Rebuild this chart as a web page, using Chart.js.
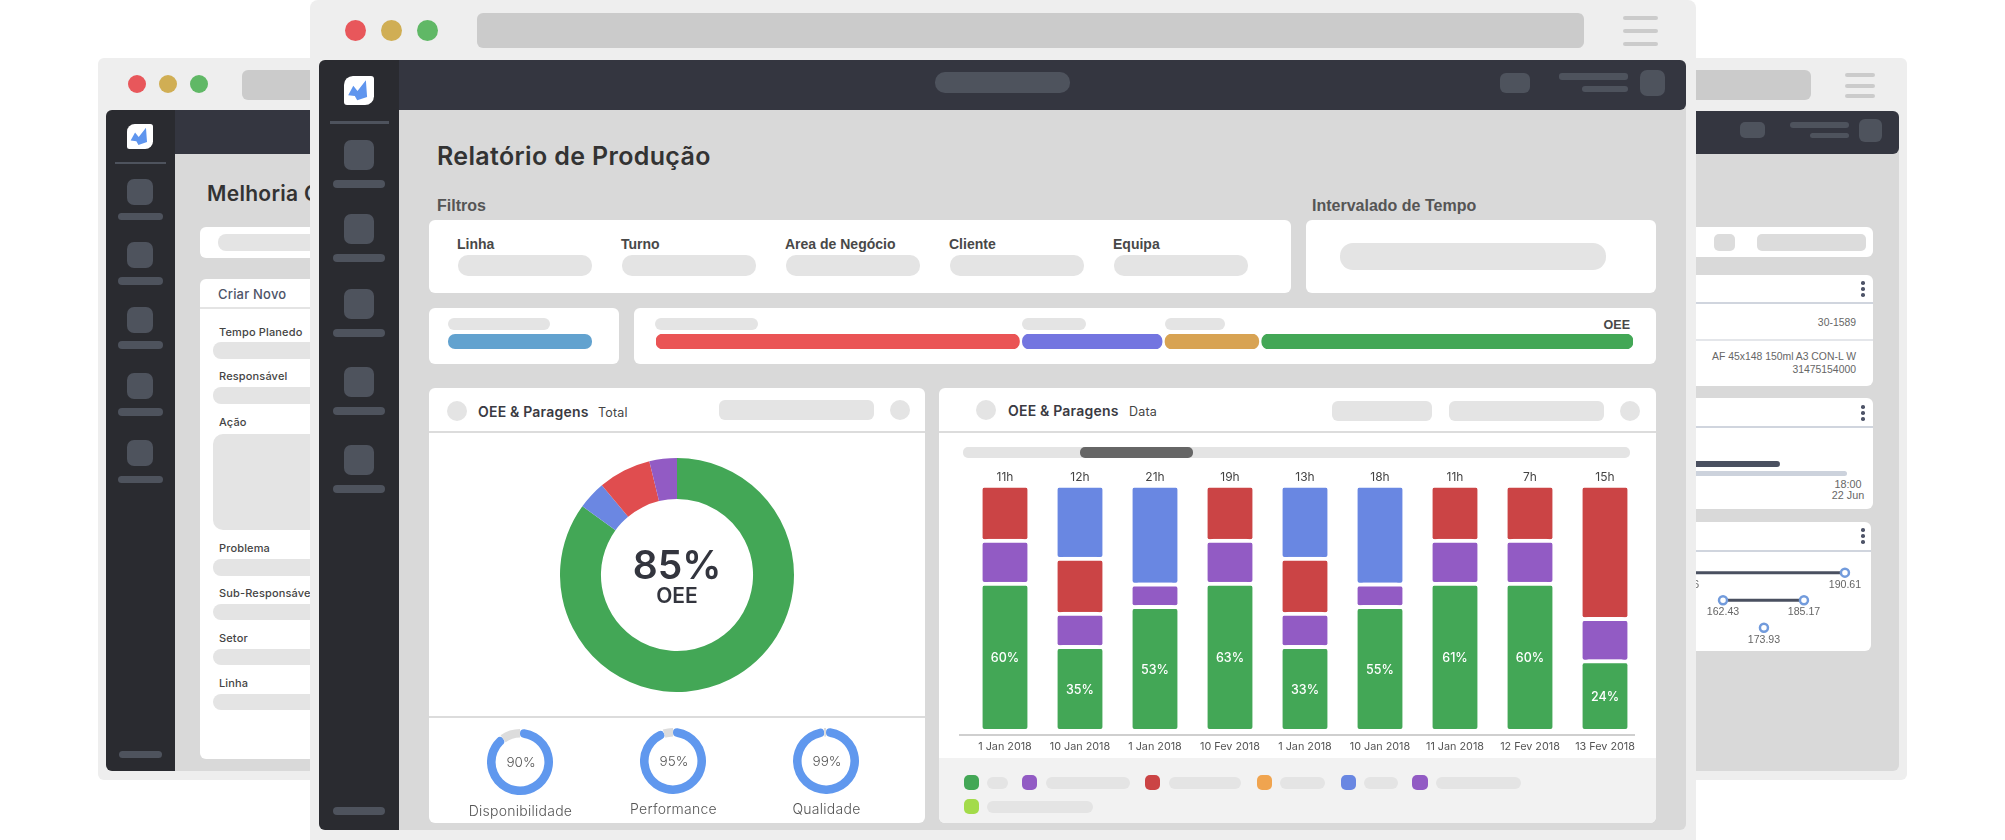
<!DOCTYPE html>
<html lang="pt">
<head>
<meta charset="utf-8">
<title>Relatório de Produção</title>
<script src="https://cdn.jsdelivr.net/npm/chart.js@4"></script>
<style>
  html, body { margin: 0; padding: 0; background: #fff; overflow: hidden; }
  #stage { position: relative; width: 2005px; height: 840px; overflow: hidden; background: #fff; }
  #stage div, #stage canvas { position: absolute; }
  .t { white-space: nowrap; line-height: 1; }
</style>
</head>
<body>
<div id="stage"></div>
<script>
/* === DATA === */
const dayLabels = ["1 Jan 2018", "10 Jan 2018", "1 Jan 2018", "10 Fev 2018", "1 Jan 2018", "10 Jan 2018", "11 Jan 2018", "12 Fev 2018", "13 Fev 2018"];
const hourLabels = ["11h", "12h", "21h", "19h", "13h", "18h", "11h", "7h", "15h"];
const oeeLabels = ["60%", "35%", "53%", "63%", "33%", "55%", "61%", "60%", "24%"];

const greenValues = [60, 34.2, 50.5, 60, 34.2, 50.5, 60, 60, 28.3];
const purpleValues = [17.5, 13.5, 9.2, 17.5, 13.5, 9.2, 17.5, 17.5, 17.3];
const redValues = [22.5, 22.5, null, 22.5, 22.5, null, 22.5, 22.5, 54.4];
const blueValues = [null, 29.8, 40.3, null, 29.8, 40.3, null, null, null];

const totalLabels = ["OEE", "Paragens azul", "Paragens vermelho", "Paragens roxo"];
const totalValues = [85, 3.9, 7.3, 3.8];

const gaugeNames = ["Disponibilidade", "Performance", "Qualidade"];
const gaugeValues = [90, 95, 99];

const segmentRanges = [[0, 37.2], [37.5, 51.8], [52.1, 61.7], [62, 100]];

const rangeTopX = [146.36, 190.61];
const rangeMidX = [162.43, 185.17];
const rangeLowX = [173.93];

/* === COLOURS === */
const GREEN = "#43a756";
const PURPLE = "#925bc4";
const RED = "#cb4445";
const BLUE = "#6987e2";
const GAUGE_BLUE = "#6098ee";
const PILL = "#e4e4e4";
const SIDE_ITEM = "#4e535d";
const POP = "Inter, 'Noto Sans', sans-serif";
const ARIAL = "'Liberation Sans', Arial, sans-serif";

Chart.defaults.animation = false;
Chart.defaults.responsive = false;
Chart.defaults.maintainAspectRatio = false;
Chart.defaults.plugins.legend.display = false;
Chart.defaults.plugins.tooltip.enabled = false;

/* === LAYOUT HELPERS === */
const stage = document.getElementById("stage");

function box(x1, y1, x2, y2, color, radius) {
  const d = document.createElement("div");
  d.style.cssText = `left:${x1}px;top:${y1}px;width:${x2 - x1}px;height:${y2 - y1}px;background:${color};border-radius:${radius || 0}px`;
  stage.appendChild(d);
  return d;
}

// x is the left edge, or the centre / right edge with align; y is the text's middle
function text(str, x, y, size, color, weight, font, align, spacing) {
  const d = document.createElement("div");
  d.className = "t";
  d.textContent = str;
  const shift = align === "center" ? "-50%" : align === "right" ? "-100%" : "0";
  d.style.cssText = `left:${x}px;top:${y}px;transform:translate(${shift},-50%);font:${weight || 400} ${size}px ${font || POP};color:${color};letter-spacing:${spacing || 0}px`;
  stage.appendChild(d);
  return d;
}

function canvas(x, y, w, h) {
  const c = document.createElement("canvas");
  c.width = w;
  c.height = h;
  c.style.cssText = `left:${x}px;top:${y}px;width:${w}px;height:${h}px`;
  stage.appendChild(c);
  return c;
}

function circle(cx, cy, r, color) {
  return box(cx - r, cy - r, cx + r, cy + r, color, r);
}

function logo(x1, y1, x2, y2) {
  const l = box(x1, y1, x2, y2, "#fff", 0);
  l.style.borderRadius = "30% 10% 30% 10%";
  const m = box(0, 0, x2 - x1, y2 - y1, "#5f95ee", 0);
  m.style.clipPath = "polygon(14% 66%,31% 34%,45% 52%,73% 15%,77% 72%,44% 84%,36% 69%)";
  l.appendChild(m);
}

function sideItem(x1, x2, iy1, iy2, lx1, lx2, ly1, ly2) {
  box(x1, iy1, x2, iy2, SIDE_ITEM, 7);
  box(lx1, ly1, lx2, ly2, SIDE_ITEM, 4);
}

function dots(x, y) {
  circle(x, y - 6, 1.8, "#4e5468");
  circle(x, y, 1.8, "#4e5468");
  circle(x, y + 6, 1.8, "#4e5468");
}

/* === BACK WINDOW, LEFT === */
box(98, 58, 800, 780, "#eeeeee", 6);
circle(137, 84, 9, "#e8575b");
circle(168, 84, 9, "#d0ae54");
circle(199, 84, 9, "#60b866");
box(242, 70, 500, 100, "#cbcbcb", 6);
box(106, 110, 800, 771, "#d9d9d9", 6);
box(160, 110, 800, 154, "#343640");
box(106, 110, 175, 771, "#2a2b30", 6);
box(160, 110, 175, 771, "#2a2b30");
logo(127, 124, 153, 149);
box(115, 162, 166, 164, "#4e535d");
[[179, 205, 213, 220], [242, 268, 277, 285], [307, 333, 341, 349], [373, 399, 408, 416], [440, 466, 476, 483]].forEach(r =>
  sideItem(127, 153, r[0], r[1], 118, 163, r[2], r[3]));
box(119, 751, 162, 758, SIDE_ITEM, 4);

text("Melhoria Contínua", 207, 193, 21, "#333", 600, POP, "left", 0.3);
box(200, 227, 500, 258, "#fff", 6);
box(218, 234, 500, 251, PILL, 8);
box(200, 279, 500, 759, "#fff", 6);
text("Criar Novo", 218, 294, 13, "#4e5468", 500, POP, "left", 0.2);
box(200, 307, 500, 309, "#e4e4e4");
[["Tempo Planedo", 332], ["Responsável", 376], ["Ação", 422], ["Problema", 548], ["Sub-Responsável", 593], ["Setor", 638], ["Linha", 683]].forEach(f =>
  text(f[0], 219, f[1], 11, "#444", 500, POP, "left", 0.15));
[[342, 359], [387, 404], [559, 576], [604, 620], [649, 665], [694, 710]].forEach(r =>
  box(213, r[0], 500, r[1], PILL, 8));
box(213, 434, 500, 530, PILL, 10);

/* === BACK WINDOW, RIGHT === */
box(1400, 58, 1907, 780, "#eeeeee", 6);
box(1500, 70, 1811, 100, "#cbcbcb", 6);
box(1845, 73, 1875, 77, "#cbcbcb", 2);
box(1845, 84, 1875, 88, "#cbcbcb", 2);
box(1845, 94, 1875, 98, "#cbcbcb", 2);
box(1500, 111, 1899, 771, "#d9d9d9", 6);
box(1500, 111, 1899, 154, "#343640", 6);
box(1740, 122, 1765, 138, SIDE_ITEM, 5);
box(1790, 122, 1849, 128, SIDE_ITEM, 3);
box(1810, 133, 1849, 138, SIDE_ITEM, 3);
box(1859, 119, 1882, 142, SIDE_ITEM, 6);

box(1600, 227, 1873, 257, "#fff", 6);
box(1714, 234, 1735, 251, "#dcdcdc", 5);
box(1757, 234, 1866, 251, "#dcdcdc", 5);

box(1600, 275, 1873, 386, "#fff", 6);
box(1600, 302, 1873, 304, "#d0d5de");
box(1600, 339, 1873, 341, "#e4e6ea");
dots(1863, 289);
text("30-1589", 1856, 322, 10.4, "#666", 400, ARIAL, "right");
text("AF 45x148 150ml A3 CON-L W", 1856, 356, 10.4, "#666", 400, ARIAL, "right");
text("31475154000", 1856, 369, 10.4, "#666", 400, ARIAL, "right");

box(1600, 398, 1873, 509, "#fff", 6);
box(1600, 426, 1873, 428, "#d0d5de");
dots(1863, 413);
box(1600, 461, 1780, 467, "#4a5060", 3);
box(1600, 471, 1847, 476, "#ccd2dc", 3);
text("18:00", 1848, 484, 10.8, "#666", 400, ARIAL, "center");
text("22 Jun", 1848, 495, 10.8, "#666", 400, ARIAL, "center");

box(1600, 522, 1871, 651, "#fff", 6);
box(1600, 550, 1871, 552, "#d0d5de");
dots(1863, 536);

// the three range rows on the back card; the front window covers the first point
const rangeLabelPlugin = {
  id: "rangeLabels",
  afterDatasetsDraw(chart) {
    const ctx = chart.ctx;
    ctx.save();
    ctx.font = "10.6px " + ARIAL;
    ctx.fillStyle = "#666";
    ctx.textAlign = "center";
    ctx.textBaseline = "middle";
    chart.data.datasets.forEach((ds, i) => {
      chart.getDatasetMeta(i).data.forEach((pt, j) => {
        ctx.fillText(ds.data[j].x.toFixed(2), pt.x, pt.y + 12);
      });
    });
    ctx.restore();
  }
};

function rangeSet(xs, row, axis) {
  return {
    data: xs.map(x => ({ x, y: row })),
    xAxisID: axis,
    borderColor: "#4a5060",
    borderWidth: 3,
    pointRadius: 4,
    pointBorderWidth: 2.5,
    pointBorderColor: "#729bdc",
    pointBackgroundColor: "#fff"
  };
}

new Chart(canvas(1660, 560, 220, 90), {
  type: "line",
  data: { datasets: [rangeSet(rangeTopX, 3, "xTop"), rangeSet(rangeMidX, 2, "x"), rangeSet(rangeLowX, 1, "x")] },
  options: {
    layout: { padding: 0, autoPadding: false },
    scales: {
      x: { type: "linear", display: false, min: 144.73, max: 206.53 },
      xTop: { type: "linear", axis: "x", display: false, min: 140.08, max: 200.19 },
      y: { type: "linear", display: false, min: 0.19, max: 3.46 }
    }
  },
  plugins: [rangeLabelPlugin]
});

/* === FRONT WINDOW === */
box(310, 0, 1696, 860, "#eeeeee", 8);
circle(355, 30, 10.5, "#e8575b");
circle(391, 30, 10.5, "#d0ae54");
circle(427, 30, 10.5, "#60b866");
box(477, 13, 1584, 48, "#cbcbcb", 6);
box(1623, 16, 1658, 20, "#cbcbcb", 2);
box(1623, 29, 1658, 33, "#cbcbcb", 2);
box(1623, 42, 1658, 46, "#cbcbcb", 2);

box(319, 60, 1686, 830, "#d9d9d9", 6);
box(380, 60, 1686, 110, "#343640", 6);
box(319, 60, 399, 830, "#2a2b30", 6);
box(380, 110, 399, 830, "#2a2b30");
box(380, 60, 399, 110, "#2a2b30");
logo(344, 76, 374, 105);
box(330, 121, 389, 124, "#4e535d");
[[140, 170, 180, 188], [214, 244, 254, 262], [289, 319, 329, 337], [367, 397, 407, 415], [445, 475, 485, 493]].forEach(r =>
  sideItem(344, 374, r[0], r[1], 333, 385, r[2], r[3]));
box(333, 807, 385, 815, SIDE_ITEM, 4);
box(935, 72, 1070, 93, SIDE_ITEM, 10);
box(1500, 73, 1530, 93, SIDE_ITEM, 6);
box(1559, 73, 1628, 80, SIDE_ITEM, 3);
box(1582, 86, 1628, 92, SIDE_ITEM, 3);
box(1640, 70, 1665, 96, SIDE_ITEM, 7);

text("Relatório de Produção", 437, 156, 25, "#333", 600, POP, "left", 0.35);
text("Filtros", 437, 206, 16, "#555", 700, ARIAL);
text("Intervalado de Tempo", 1312, 206, 16, "#555", 700, ARIAL);

box(429, 220, 1291, 293, "#fff", 6);
box(1306, 220, 1656, 293, "#fff", 6);
[["Linha", 457], ["Turno", 621], ["Area de Negócio", 785], ["Cliente", 949], ["Equipa", 1113]].forEach(f => {
  text(f[0], f[1], 244, 14, "#484848", 700, ARIAL);
  box(f[1] + 1, 255, f[1] + 135, 276, PILL, 10);
});
box(1340, 243, 1606, 270, PILL, 13);

box(429, 308, 619, 364, "#fff", 6);
box(448, 318, 550, 330, PILL, 6);
box(448, 334, 592, 349, "#62a2cf", 7);
box(634, 308, 1656, 364, "#fff", 6);
box(655, 318, 758, 330, PILL, 6);
box(1022, 318, 1086, 330, PILL, 6);
box(1165, 318, 1225, 330, PILL, 6);
text("OEE", 1630, 325, 12.5, "#484848", 700, ARIAL, "right");

new Chart(canvas(656, 334, 977, 15), {
  type: "bar",
  data: {
    labels: ["OEE"],
    datasets: segmentRanges.map((r, i) => ({
      data: [r],
      backgroundColor: ["#ea5455", "#7375e0", "#d8a353", GREEN][i],
      borderRadius: 7,
      borderSkipped: false,
      barThickness: 15,
      grouped: false
    }))
  },
  options: {
    indexAxis: "y",
    layout: { padding: 0 },
    scales: { x: { display: false, min: 0, max: 100 }, y: { display: false } }
  }
});

/* === OEE TOTAL CARD === */
box(429, 388, 925, 823, "#fff", 6);
circle(457, 411, 10, PILL);
text("OEE & Paragens", 478, 411, 14, "#3a3a42", 600, POP, "left", 0.2);
text("Total", 598, 412, 12.5, "#444", 400, POP, "left", 0.2);
box(719, 400, 874, 420, PILL, 6);
circle(900, 410, 10, PILL);
box(429, 431, 925, 433, "#dcdcdc");
box(429, 716, 925, 718, "#dcdcdc");

new Chart(canvas(560, 458, 234, 234), {
  type: "doughnut",
  data: {
    labels: totalLabels,
    datasets: [{
      data: totalValues,
      backgroundColor: [GREEN, "#6b87e2", "#e04d4f", PURPLE],
      borderWidth: 0,
      hoverOffset: 0
    }]
  },
  options: { cutout: "65%", layout: { padding: 0 } }
});
text("85%", 677, 564, 39, "#33353e", 600, POP, "center");
text("OEE", 677, 595, 21, "#33353e", 600, POP, "center");

gaugeNames.forEach((name, i) => {
  const cx = [520, 673, 826][i];
  const cy = [762, 761, 761][i];
  new Chart(canvas(cx - 33, cy - 33, 66, 66), {
    type: "doughnut",
    data: {
      labels: [name, ""],
      datasets: [{
        data: [gaugeValues[i], 100 - gaugeValues[i]],
        backgroundColor: [GAUGE_BLUE, "#dcdcdc"],
        borderWidth: 0,
        borderRadius: [4, 0],
        hoverOffset: 0
      }]
    },
    options: { cutout: "74%", layout: { padding: 0 } }
  });
  text(gaugeValues[i] + "%", cx + 1, cy, 13.5, "#555", 300, POP, "center");
  text(name, cx + 0.5, [810, 808, 808][i], 14, "#555", 300, POP, "center", 0.25);
});

/* === OEE BY DATE CARD === */
box(939, 388, 1656, 823, "#fff", 6);
circle(986, 410, 10, PILL);
text("OEE & Paragens", 1008, 410, 14, "#3a3a42", 600, POP, "left", 0.2);
text("Data", 1129, 411, 12.5, "#444", 400, POP, "left", 0.2);
box(1332, 401, 1432, 421, PILL, 6);
box(1449, 401, 1604, 421, PILL, 6);
circle(1630, 411, 10, PILL);
box(939, 431, 1656, 433, "#dcdcdc");

box(963, 447, 1630, 458, PILL, 5);
box(1080, 447, 1193, 458, "#666", 5);
box(959, 734, 1635, 736, "#cfcfcf");

const oeeLabelPlugin = {
  id: "oeeLabels",
  afterDatasetsDraw(chart) {
    const ctx = chart.ctx;
    ctx.save();
    ctx.font = "500 12.5px " + POP;
    ctx.fillStyle = "#fff";
    ctx.textAlign = "center";
    ctx.textBaseline = "middle";
    chart.getDatasetMeta(0).data.forEach((bar, i) => {
      ctx.fillText(oeeLabels[i], bar.x, (bar.y + bar.base) / 2 + 3);
    });
    ctx.restore();
  }
};

function stackSet(label, data, color) {
  return {
    label,
    data,
    backgroundColor: color,
    borderColor: "#fff",
    borderWidth: { top: 4, right: 0, bottom: 0, left: 0 },
    borderRadius: { topLeft: 6, topRight: 6, bottomLeft: 2, bottomRight: 2 },
    borderSkipped: false,
    barThickness: 45
  };
}

new Chart(canvas(960, 465, 690, 295), {
  type: "bar",
  data: {
    labels: dayLabels,
    datasets: [
      stackSet("OEE", greenValues, GREEN),
      stackSet("Paragem roxa", purpleValues, PURPLE),
      stackSet("Paragem vermelha", redValues, RED),
      stackSet("Paragem azul", blueValues, BLUE)
    ]
  },
  options: {
    layout: { padding: { left: 7.5, right: 7.5 } },
    scales: {
      x: {
        stacked: true,
        grid: { display: false, drawTicks: false },
        border: { display: false },
        ticks: { autoSkip: false, maxRotation: 0, padding: 11, color: "#555", font: { family: POP, size: 10.8 } },
        afterFit(scale) { scale.height = 31; }
      },
      xHours: {
        type: "category",
        axis: "x",
        labels: hourLabels,
        position: "top",
        offset: true,
        grid: { display: false, drawTicks: false },
        border: { display: false },
        ticks: { autoSkip: false, maxRotation: 0, padding: -1, color: "#444", font: { family: POP, size: 12 } },
        afterFit(scale) { scale.height = 19; }
      },
      y: { stacked: true, display: false, min: 0, max: 100 }
    }
  },
  plugins: [oeeLabelPlugin]
});

// legend strip
const legendBand = box(939, 758, 1656, 823, "#f2f2f2", 0);
legendBand.style.borderRadius = "0 0 6px 6px";
[[964, 979, 987, 1008, GREEN], [1022, 1037, 1046, 1130, PURPLE], [1145, 1160, 1169, 1241, RED], [1257, 1272, 1280, 1325, "#f0a44f"], [1341, 1356, 1364, 1398, BLUE], [1412, 1428, 1436, 1521, PURPLE]].forEach(l => {
  box(l[0], 775, l[1], 790, l[4], 5);
  box(l[2], 777, l[3], 789, PILL, 6);
});
box(964, 799, 979, 814, "#a3db4a", 5);
box(987, 801, 1093, 813, PILL, 6);
</script>
</body>
</html>
